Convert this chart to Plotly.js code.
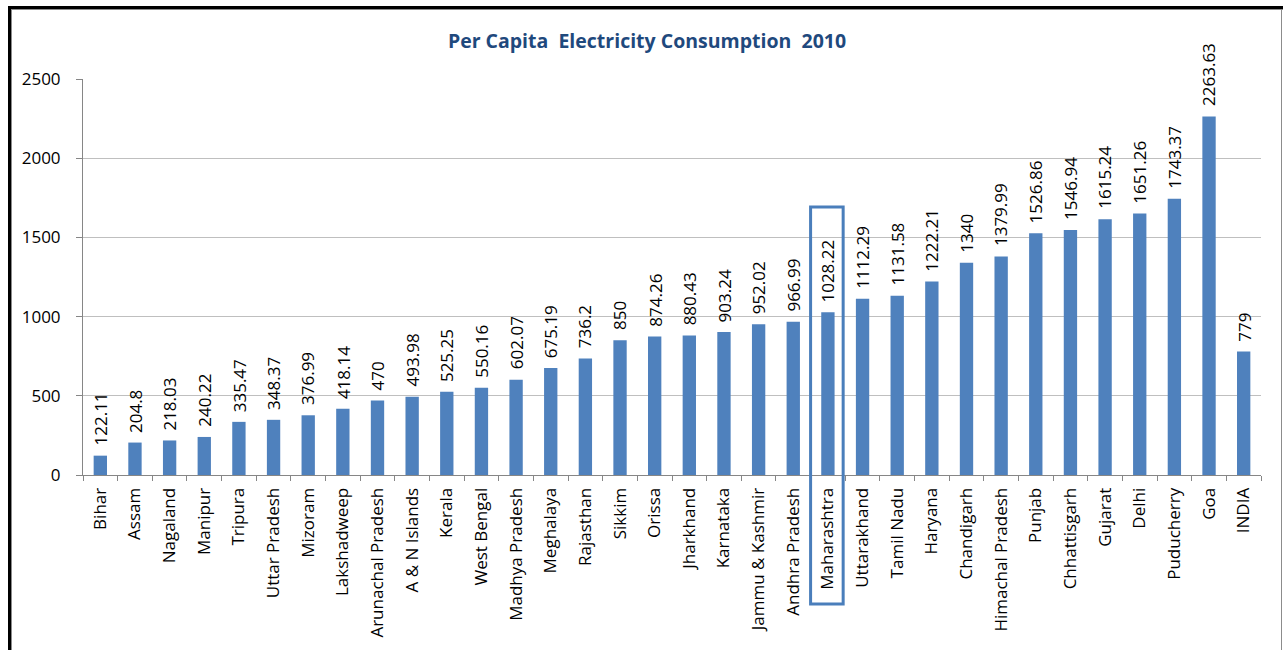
<!DOCTYPE html>
<html>
<head>
<meta charset="utf-8">
<script src="https://cdn.plot.ly/plotly-3.0.1.min.js"></script>
<style>
  html, body { margin: 0; padding: 0; background: #fff; }
  #wrap { position: relative; width: 1283px; height: 650px; overflow: hidden; }
  #chart { position: absolute; left: 0; top: 0; width: 1283px; height: 650px; }
  .edge { position: absolute; pointer-events: none; }
</style>
</head>
<body>
<div id="wrap">
  <div id="chart"></div>
  <!-- frame around the chart area -->
  <div class="edge" style="left:8px; top:6px; width:3px; height:644px; background:#000;"></div>
  <div class="edge" style="left:11px; top:9px; width:1px; height:641px; background:#8c8c8c;"></div>
  <div class="edge" style="left:8px; top:6px; width:1275px; height:3px; background:#000;"></div>
  <div class="edge" style="left:11px; top:9px; width:1272px; height:1px; background:#8c8c8c;"></div>
  <div class="edge" style="left:1281px; top:9px; width:1px; height:641px; background:#8c8c8c;"></div>
</div>
<script>
// Per capita electricity consumption (kWh), 2010
const regions = [
  "Bihar", "Assam", "Nagaland", "Manipur", "Tripura", "Uttar Pradesh", "Mizoram",
  "Lakshadweep", "Arunachal Pradesh", "A & N Islands", "Kerala", "West Bengal",
  "Madhya Pradesh", "Meghalaya", "Rajasthan", "Sikkim", "Orissa", "Jharkhand",
  "Karnataka", "Jammu & Kashmir", "Andhra Pradesh", "Maharashtra", "Uttarakhand",
  "Tamil Nadu", "Haryana", "Chandigarh", "Himachal Pradesh", "Punjab",
  "Chhattisgarh", "Gujarat", "Delhi", "Puducherry", "Goa", "INDIA"
];
const consumption = [
  122.11, 204.8, 218.03, 240.22, 335.47, 348.37, 376.99,
  418.14, 470, 493.98, 525.25, 550.16,
  602.07, 675.19, 736.2, 850, 874.26, 880.43,
  903.24, 952.02, 966.99, 1028.22, 1112.29,
  1131.58, 1222.21, 1340, 1379.99, 1526.86,
  1546.94, 1615.24, 1651.26, 1743.37, 2263.63, 779
];
const yTicks = [0, 500, 1000, 1500, 2000, 2500];
const highlighted = "Maharashtra";

const FONT = "Open Sans, Liberation Sans, Arial, sans-serif";
const yMax = 2500;

const trace = {
  type: "bar",
  x: regions,
  y: consumption,
  marker: { color: "#4F81BD", line: { width: 0 } },
  hoverinfo: "x+y"
};

// value labels, rotated, sitting above each bar
const labels = regions.map((r, i) => ({
  x: r,
  y: consumption[i],
  xref: "x",
  yref: "y",
  text: String(consumption[i]),
  textangle: -90,
  showarrow: false,
  xanchor: "center",
  yanchor: "bottom",
  yshift: 8,
  font: { family: FONT, size: 17, color: "#000" }
}));

// outline around the highlighted region (bar + category label)
const hi = regions.indexOf(highlighted);
const xp = v => (v + 0.5) / regions.length;
const yp = v => v / yMax;
const frame = {
  type: "rect",
  xref: "paper",
  yref: "paper",
  x0: xp(hi - 0.5),
  x1: xp(hi + 0.44),
  y0: yp(-814),
  y1: yp(1692),
  line: { color: "#4A7EBB", width: 3 },
  fillcolor: "rgba(0,0,0,0)"
};

const layout = {
  width: 1283,
  height: 650,
  margin: { l: 83, r: 22, t: 79, b: 175, pad: 0 },
  paper_bgcolor: "rgba(0,0,0,0)",
  plot_bgcolor: "#fff",
  showlegend: false,
  bargap: 0.615,
  title: {
    text: "<b>Per Capita  Electricity Consumption  2010</b>",
    font: { family: FONT, size: 19.5, color: "#1F497D" },
    x: 647 / 1283,
    xref: "container",
    xanchor: "center",
    y: 1 - 41 / 650,
    yref: "container",
    yanchor: "middle"
  },
  xaxis: {
    type: "category",
    range: [-0.5, regions.length - 0.5],
    tickangle: -90,
    tickfont: { family: FONT, size: 17, color: "#000" },
    showline: true,
    linecolor: "#868686",
    linewidth: 1,
    ticks: "outside",
    tickson: "boundaries",
    ticklen: 5,
    tickcolor: "#868686",
    ticklabelstandoff: 5,
    showgrid: false,
    zeroline: false,
    fixedrange: true
  },
  yaxis: {
    range: [0, yMax],
    tickvals: yTicks,
    ticktext: yTicks.map(String),
    tickfont: { family: FONT, size: 17, color: "#000" },
    showline: true,
    linecolor: "#868686",
    linewidth: 1,
    ticks: "outside",
    ticklen: 6,
    tickcolor: "#868686",
    ticklabelstandoff: 12,
    showgrid: true,
    gridcolor: "#BFBFBF",
    gridwidth: 1,
    zeroline: false,
    fixedrange: true
  },
  annotations: labels,
  shapes: [frame]
};

Plotly.newPlot("chart", [trace], layout, { displayModeBar: false, staticPlot: true });
</script>
</body>
</html>
